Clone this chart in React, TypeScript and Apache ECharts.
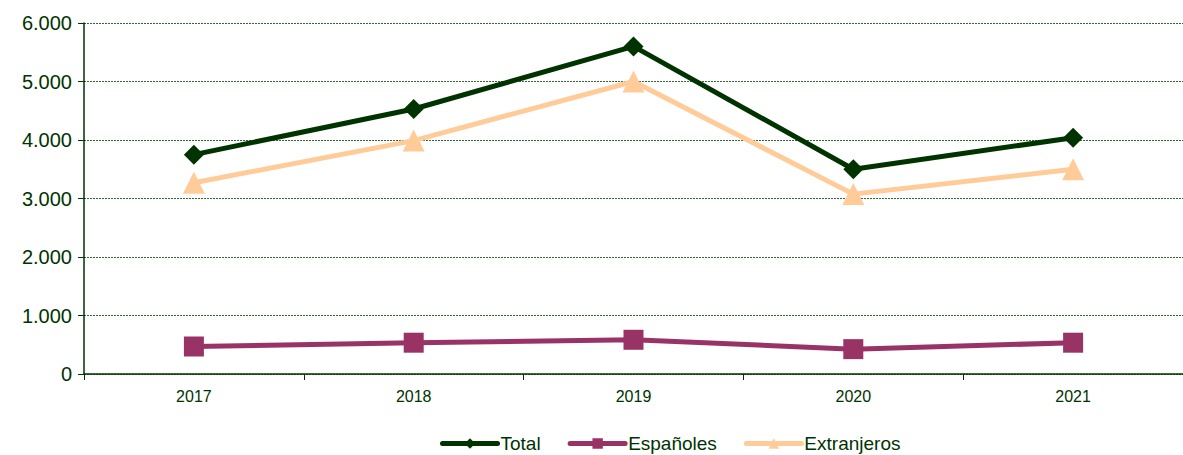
import React, { useEffect, useRef } from "react";
import * as echarts from "echarts";

const years = ["2017", "2018", "2019", "2020", "2021"];
const total = [3750, 4530, 5600, 3500, 4040];
const espanoles = [470, 535, 585, 425, 535];
const extranjeros = [3270, 3990, 5000, 3075, 3500];

const textColor = "#003300";
const font = "Liberation Sans, Arial, sans-serif";

export default function App() {
  const ref = useRef<HTMLDivElement>(null);
  useEffect(() => {
    const chart = echarts.init(ref.current!, undefined, { renderer: "svg" });
    chart.setOption({
      animation: false,
      grid: { left: 84, right: 0, top: 23, bottom: 81 },
      legend: {
        top: 434,
        left: 440,
        itemWidth: 55,
        itemHeight: 13,
        itemGap: 27,
        padding: 0,
        lineStyle: { width: 5, cap: "round" },
        textStyle: { color: textColor, fontSize: 19, fontFamily: font, padding: [0, 0, 0, -2] },
        data: ["Total", "Españoles", "Extranjeros"],
      },
      xAxis: {
        type: "category",
        data: years,
        boundaryGap: true,
        axisLine: { lineStyle: { color: textColor, width: 1.5 } },
        axisTick: { show: true, length: 6, lineStyle: { color: textColor } },
        axisLabel: { color: textColor, fontSize: 16, margin: 14, fontFamily: font },
      },
      yAxis: {
        type: "value",
        min: 0,
        max: 6000,
        interval: 1000,
        axisLine: { show: true, lineStyle: { color: textColor, width: 1.5 } },
        axisTick: { show: true, length: 6, lineStyle: { color: textColor } },
        axisLabel: {
          color: textColor,
          fontSize: 20,
          margin: 12,
          fontFamily: font,
          formatter: (v: number) => (v === 0 ? "0" : v.toLocaleString("de-DE")),
        },
        splitLine: { show: true, lineStyle: { color: "#336633", type: [2, 1], width: 1 } },
      },
      series: [
        {
          name: "Total",
          type: "line",
          data: total,
          symbol: "diamond",
          symbolSize: 20,
          lineStyle: { color: "#003300", width: 5 },
          itemStyle: { color: "#003300" },
          z: 3,
        },
        {
          name: "Españoles",
          type: "line",
          data: espanoles,
          symbol: "rect",
          symbolSize: 20,
          lineStyle: { color: "#993366", width: 5 },
          itemStyle: { color: "#993366" },
          z: 2,
        },
        {
          name: "Extranjeros",
          type: "line",
          data: extranjeros,
          symbol: "triangle",
          symbolSize: 22,
          lineStyle: { color: "#FFCC99", width: 5 },
          itemStyle: { color: "#FFCC99" },
          z: 1,
        },
      ],
    });
    return () => chart.dispose();
  }, []);
  return (
    <div
      ref={ref}
      style={{ position: "absolute", left: 0, top: 0, width: 1183, height: 455 }}
    />
  );
}
